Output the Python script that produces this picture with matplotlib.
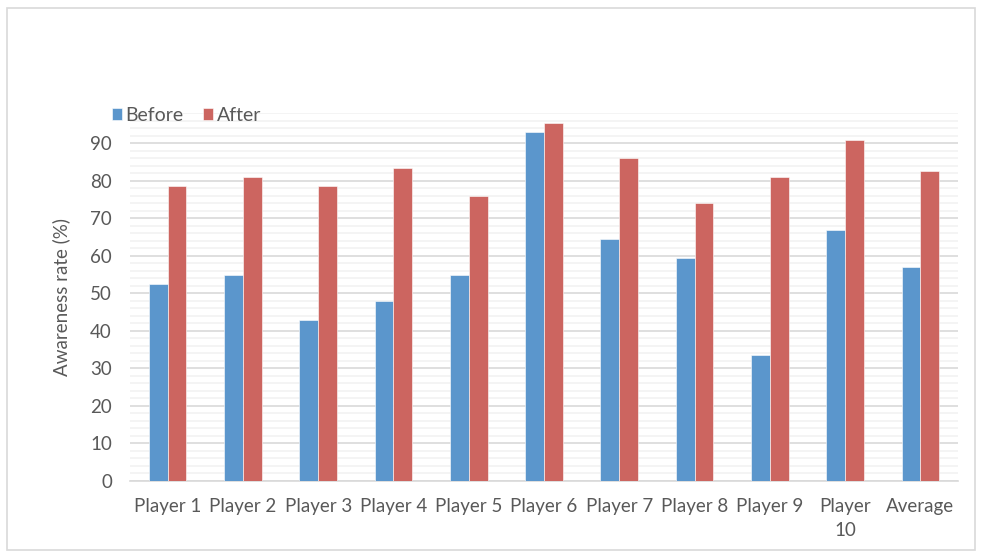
import matplotlib.pyplot as plt
import numpy as np
from matplotlib.patches import Rectangle
from matplotlib.ticker import MultipleLocator

# data
players = ["Player 1", "Player 2", "Player 3", "Player 4", "Player 5", "Player 6",
           "Player 7", "Player 8", "Player 9", "Player\n10", "Average"]
before = [52.5, 55.0, 43.0, 48.0, 55.0, 93.0, 64.5, 59.5, 33.5, 67.0, 57.0]
after = [78.5, 81.0, 78.5, 83.5, 76.0, 95.5, 86.0, 74.0, 81.0, 91.0, 82.5]

blue = "#5B96CC"
red = "#CC6560"
text_col = "#595959"

plt.rcParams['font.family'] = ['Lato', 'DejaVu Sans']

fig = plt.figure(figsize=(9.81, 5.56), dpi=100)
ax = fig.add_axes([130 / 981, 1 - 481 / 556, 828 / 981, (481 - 113.3) / 556])

x = np.arange(len(players))
w = 0.25
ax.bar(x - w / 2, before, w, color=blue, edgecolor="#ffffff", linewidth=0.4, label="Before", zorder=3)
ax.bar(x + w / 2, after, w, color=red, edgecolor="#ffffff", linewidth=0.4, label="After", zorder=3)

ax.set_xlim(-0.5, len(players) - 0.5)
ax.set_ylim(0, 98)
ax.yaxis.set_major_locator(MultipleLocator(10))
ax.yaxis.set_minor_locator(MultipleLocator(2))
ax.grid(True, which="major", axis="y", color="#D9D9D9", linewidth=1.2, zorder=0)
ax.grid(True, which="minor", axis="y", color="#F2F2F2", linewidth=1.2, zorder=0)
ax.set_axisbelow(True)

for s in ["top", "right", "left"]:
    ax.spines[s].set_visible(False)
ax.spines["bottom"].set_color("#D9D9D9")
ax.spines["bottom"].set_linewidth(1.2)

ax.set_xticks(x)
ax.set_xticklabels(players, fontsize=13.5, color=text_col, linespacing=1.45, va="top")
ax.tick_params(axis="x", length=0, pad=12.5)
ax.tick_params(axis="y", which="both", length=0, labelsize=13.5, labelcolor=text_col, pad=13)
ax.set_ylabel("Awareness rate (%)", fontsize=13.5, color=text_col, labelpad=14)

ax.legend(loc="center left", bbox_to_anchor=(-0.022, 0.995), ncol=2, frameon=False,
          fontsize=14, labelcolor=text_col, handlelength=0.5, handleheight=0.6,
          handletextpad=0.2, columnspacing=1.0, borderaxespad=0, borderpad=0)

# light outer frame like the chart area border
fig.patches.append(Rectangle((7 / 981, 1 - 550 / 556), 968 / 981, 542 / 556,
                             transform=fig.transFigure, fill=False,
                             edgecolor="#D9D9D9", linewidth=1.2))

fig.savefig("out.png", dpi=100)
